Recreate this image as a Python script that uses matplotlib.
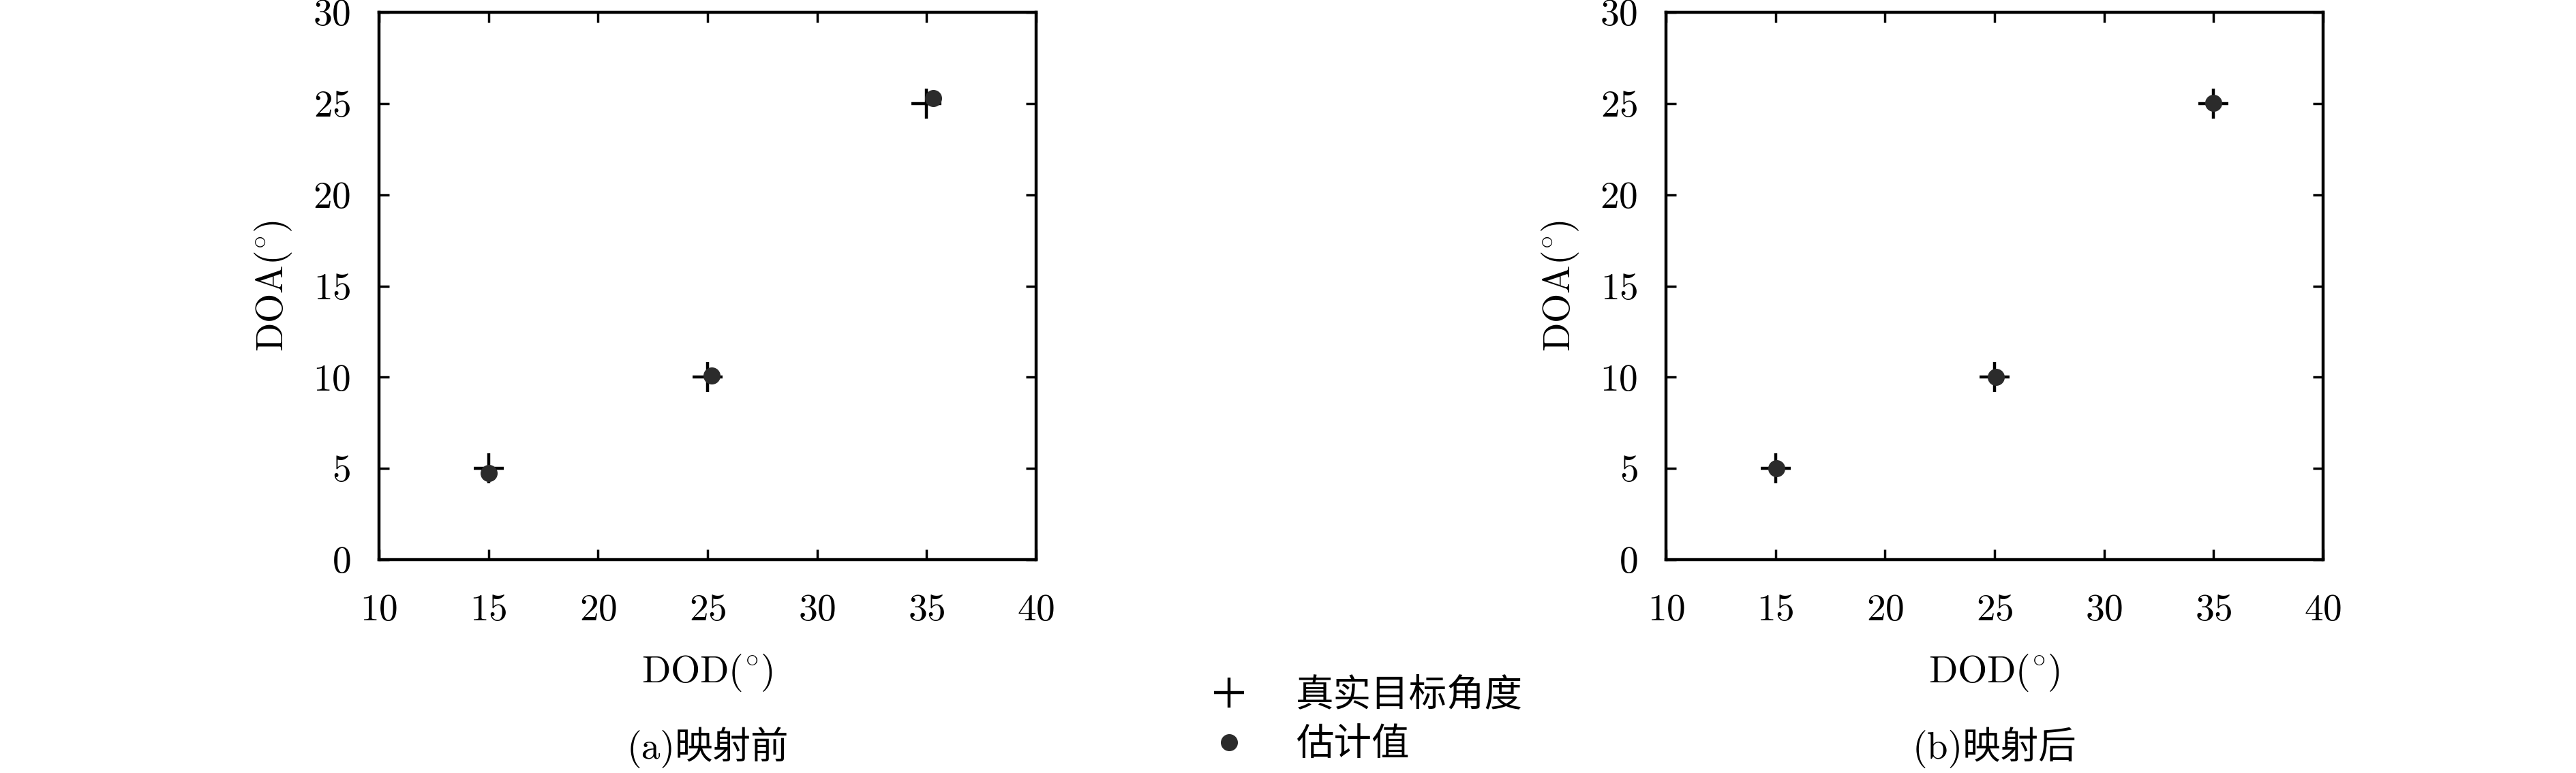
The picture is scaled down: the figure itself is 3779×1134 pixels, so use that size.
import matplotlib
matplotlib.use('Agg')
import matplotlib.pyplot as plt
from matplotlib.lines import Line2D

plt.rcParams['font.family'] = ['cmr10', 'Noto Sans CJK SC', 'DejaVu Sans']
plt.rcParams['mathtext.fontset'] = 'cm'
plt.rcParams['axes.formatter.use_mathtext'] = True

# true target angles
true_dod = [15, 25, 35]
true_doa = [5, 10, 25]

# estimates before mapping
est_dod_a = [15.0, 25.2, 35.3]
est_doa_a = [4.75, 10.1, 25.3]

# estimates after mapping
est_dod_b = [15.05, 25.05, 35.0]
est_doa_b = [5.0, 10.0, 25.05]

xticks = [10, 15, 20, 25, 30, 35, 40]
yticks = [0, 5, 10, 15, 20, 25, 30]
captions = ['(a)映射前', '(b)映射后']
legend_labels = ['真实目标角度', '估计值']

dot_color = '#2b2b2b'
fs = 40

fig = plt.figure(figsize=(37.8, 11.34), dpi=100)
ax_a = fig.add_axes([0.1471, 0.276, 0.2550, 0.708])
ax_b = fig.add_axes([0.6466, 0.276, 0.2550, 0.708])

for ax, ex, ey, cap in [(ax_a, est_dod_a, est_doa_a, captions[0]),
                        (ax_b, est_dod_b, est_doa_b, captions[1])]:
    ax.plot(ex, ey, 'o', color=dot_color, markersize=17, zorder=3)
    ax.plot(true_dod, true_doa, '+', color='black', markersize=32, mew=3.2, zorder=2)
    ax.set_xlim(10, 40)
    ax.set_ylim(0, 30)
    ax.set_xticks(xticks)
    ax.set_yticks(yticks)
    ax.tick_params(direction='in', length=11, width=2.5, labelsize=fs,
                   top=True, right=True)
    ax.tick_params(axis='x', pad=36)
    ax.tick_params(axis='y', pad=30)
    for s in ax.spines.values():
        s.set_linewidth(3.2)
    ax.set_xlabel(r'$\mathrm{DOD}(^{\circ})$', fontsize=fs, labelpad=26)
    ax.set_ylabel(r'$\mathrm{DOA}(^{\circ})$', fontsize=fs, labelpad=20)
    ax.text(0.5, -0.343, cap, transform=ax.transAxes, ha='center', va='center',
            fontsize=fs)

handles = [Line2D([], [], marker='+', linestyle='none', color='black', markersize=32, mew=3.2),
           Line2D([], [], marker='o', linestyle='none', color=dot_color, markersize=17)]
fig.legend(handles, legend_labels, loc='center', bbox_to_anchor=(0.5285, 0.068),
           frameon=False, fontsize=fs, handletextpad=1.0, labelspacing=0.4,
           handlelength=1.5)

fig.savefig('out.png', dpi=100)
